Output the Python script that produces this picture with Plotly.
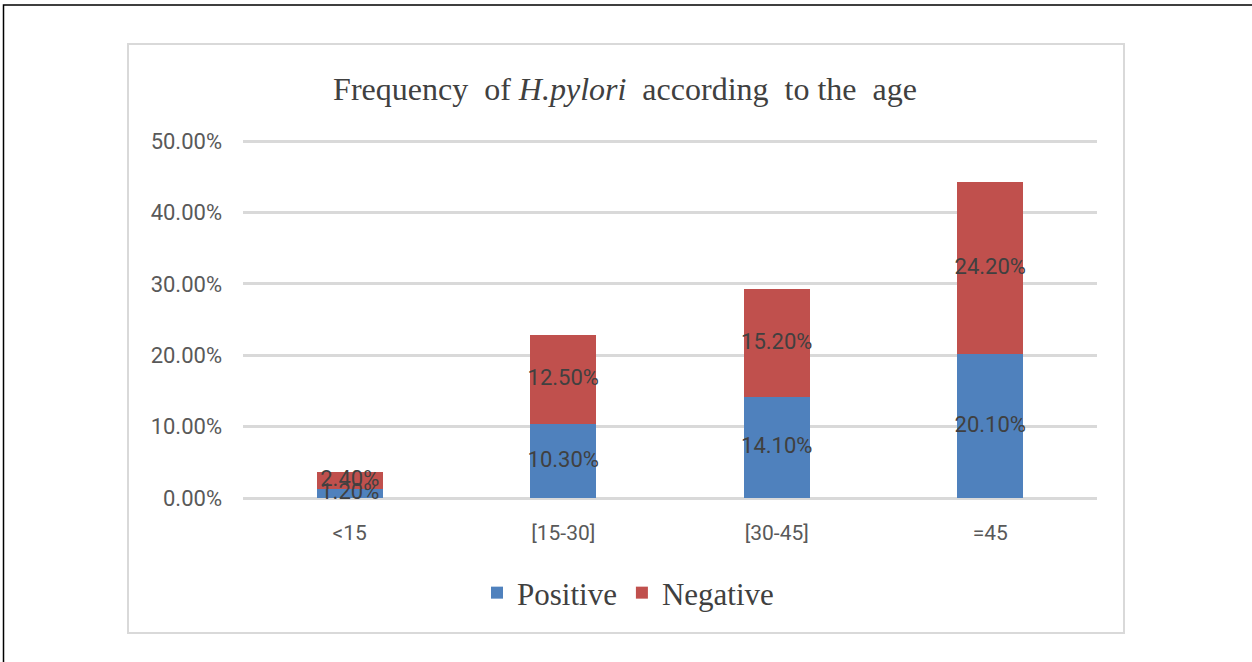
import plotly.graph_objects as go

categories = ["<15", "[15-30]", "[30-45]", "=45"]
positive = [0.012, 0.103, 0.141, 0.201]
negative = [0.024, 0.125, 0.152, 0.242]
series_names = ["Positive", "Negative"]
colors = ["#4F81BD", "#C0504D"]

W, H = 1252, 662
L, R, T, B = 243, 155, 139, 164
pw, ph = W - L - R, H - T - B
y_top = 0.5 * ph / (H - B - 141)

def px2x(px):
    return (px - L) / pw

def py2y(py):
    return (H - B - py) / ph

fig = go.Figure()
for name, vals, col in zip(series_names, [positive, negative], colors):
    fig.add_trace(go.Bar(
        x=categories, y=vals, name=name, marker_color=col,
        marker_line_width=0, hoverinfo="skip",
    ))

# data labels drawn on top of all bars, at the middle of each segment
pos_mid = [p / 2 for p in positive]
neg_mid = [p + n / 2 for p, n in zip(positive, negative)]
for mids, vals in [(pos_mid, positive), (neg_mid, negative)]:
    fig.add_trace(go.Scatter(
        x=categories, y=mids, mode="text",
        text=[f"{v * 100:.2f}%" for v in vals],
        textposition="middle center", cliponaxis=False,
        textfont=dict(family="Roboto", size=22, color="#404040"),
        showlegend=False, hoverinfo="skip",
    ))

fig.update_layout(
    width=W, height=H,
    barmode="stack", bargap=0.69,
    margin=dict(l=L, r=R, t=T, b=B),
    paper_bgcolor="white", plot_bgcolor="white",
    title=dict(
        text="Frequency  of <i>H.pylori</i>  according  to the  age",
        xref="container", x=625 / W, xanchor="center",
        yref="container", y=1 - 89 / H, yanchor="middle",
        font=dict(family="Liberation Serif", size=32, color="#404040"),
    ),
    legend=dict(
        orientation="h", xref="container", x=628 / W, xanchor="center",
        yref="container", y=1 - 593 / H, yanchor="middle",
        font=dict(family="Liberation Serif", size=31, color="#404040"),
        itemwidth=30, traceorder="normal",
    ),
    showlegend=True,
)
fig.update_yaxes(
    range=[0, y_top], dtick=0.1, tickformat=".2%",
    showgrid=True, gridcolor="#D9D9D9", gridwidth=3,
    zeroline=True, zerolinecolor="#D9D9D9", zerolinewidth=3,
    showline=False, ticks="",
    ticklabelstandoff=20,
    tickfont=dict(family="Roboto", size=22, color="#595959"),
)
fig.update_xaxes(
    showgrid=False, showline=False, ticks="",
    ticklabelstandoff=20,
    tickfont=dict(family="Roboto", size=21, color="#595959"),
)

# inner chart-area border (light gray)
fig.add_shape(type="rect", xref="paper", yref="paper",
              x0=px2x(128), x1=px2x(1124), y0=py2y(633), y1=py2y(44),
              line=dict(color="#D9D9D9", width=2), layer="below")
# outer black frame (extends beyond right/bottom edges)
fig.add_shape(type="rect", xref="paper", yref="paper",
              x0=px2x(3.5), x1=px2x(1270), y0=py2y(680), y1=py2y(5),
              line=dict(color="#000000", width=1.5), layer="below")

fig.write_html("out.html", config={"displayModeBar": False},
               post_script="document.body.style.margin='0px';")
